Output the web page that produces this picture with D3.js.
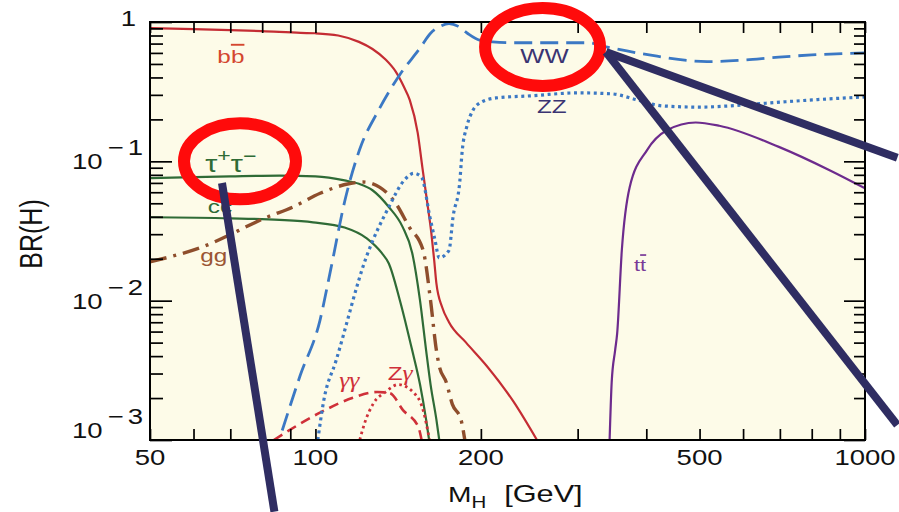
<!DOCTYPE html>
<html><head><meta charset="utf-8">
<script src="https://cdn.jsdelivr.net/npm/d3@7/dist/d3.min.js"></script>
<style>
html,body{margin:0;padding:0;background:#fff;}
svg{display:block;font-family:"Liberation Sans",Arial,Helvetica,sans-serif;}
</style></head>
<body>
<svg id="chart" width="899" height="512"></svg>
<script>
// ---------- data (Higgs mass in GeV, branching ratio) ----------
const bbM  = [50,60,70,80,94,100,110,120,127,134,140,145,148.5,153.5,156.5,159.5,162.5,164.5,166,170,175,188,205,229,253];
const bbBR = [0.905,0.89,0.875,0.86,0.835,0.83,0.8,0.72,0.64,0.54,0.44,0.34,0.275,0.16,0.091,0.053,0.0306,0.0194,0.0133,0.009,0.007,0.005,0.0034,0.0019,0.001];

const wwM  = [87,93.8,101.9,106.6,113.2,120.3,130.3,142.3,155,162,168.6,175,182,189,199,210,229,312,340,405,516,590,697,800,1000];
const wwBR = [0.00117,0.0029,0.0072,0.0167,0.0528,0.121,0.233,0.417,0.65,0.83,0.93,0.975,0.93,0.83,0.74,0.72,0.71,0.71,0.66,0.58,0.52,0.53,0.56,0.58,0.6];

const zzM  = [101,103.5,109,124,136,145,151,156,161.5,165,168,175,178,183,185,188.5,193.5,199,213,246,300,346,385,428,500,568,650,802,1000];
const zzBR = [0.001,0.0019,0.0037,0.021,0.047,0.073,0.082,0.077,0.04,0.0273,0.0203,0.023,0.04,0.07,0.12,0.177,0.233,0.262,0.285,0.295,0.31,0.305,0.276,0.25,0.245,0.25,0.26,0.276,0.29];

const ttM  = [343,346,351,354,361,373,401,436,492,543,697,864,1000];
const ttBR = [0.001,0.0026,0.0044,0.0058,0.023,0.065,0.12,0.167,0.19,0.18,0.127,0.086,0.064];

const tauM  = [50,60,70,86,100,113,120,127,136,144,150,155,159,162,166,168];
const tauBR = [0.0757,0.077,0.078,0.079,0.078,0.073,0.069,0.062,0.047,0.034,0.022,0.01,0.0044,0.0025,0.0014,0.001];

const ccM  = [50,70,86,99,113,124,132,136,142.5,150,155,159,161];
const ccBR = [0.0397,0.039,0.038,0.0365,0.0335,0.028,0.022,0.0185,0.01,0.0044,0.0025,0.0014,0.001];

const ggM  = [50,61.7,82,91,102,115,122,131,140,148,157,162,166,168,173,177.5,184,187];
const ggBR = [0.019,0.024,0.04,0.047,0.059,0.069,0.071,0.065,0.05,0.034,0.023,0.01,0.0044,0.0034,0.0026,0.0018,0.0014,0.001];

const aaM  = [84,101.9,117,129.6,136.6,144.3,153.9,156];
const aaBR = [0.001,0.00157,0.00201,0.00221,0.00217,0.00164,0.00124,0.001];

const zaM  = [120.4,122.8,127.6,134.1,141.5,150.5,157,161.3];
const zaBR = [0.001,0.00131,0.00184,0.00221,0.0025,0.00221,0.00164,0.001];

// ticks
const xTickLabelValues = [50,100,200,500,1000];
const xTickLabels = ["50","100","200","500","1000"];
const xMinorTicks = [60,70,80,90,300,400,600,700,800,900];
const yMajorTicks = [0.001,0.01,0.1,1];
const yTickExponents = ["3","2","1",""];
const yMinorTicks = [0.002,0.003,0.004,0.005,0.006,0.007,0.008,0.009,
                     0.02,0.03,0.04,0.05,0.06,0.07,0.08,0.09,
                     0.2,0.3,0.4,0.5,0.6,0.7,0.8,0.9];

// curve labels (position in data coords)
const labelNames = ["bb","tautau","cc","gg","WW","ZZ","tt","aa","Za"];
const labelM  = [66.3,63.0,63.7,61.7,236,253,380,110.5,135.4];
const labelBR = [0.508,0.0838,0.0425,0.019,0.508,0.222,0.0164,0.0024,0.0027];

// annotation marks (data coords)
const ellipseM  = [72.9,259];
const ellipseBR = [0.1,0.662];
const arrowFromM  = [67.6,337.8,337.8];
const arrowFromBR = [0.0699,0.609,0.609];
const arrowToM    = [84.2,1145,1145];
const arrowToBR   = [0.000306,0.106,0.00128];

// ---------- layout ----------
const SX = 1.28;   // horizontal stretch of the original typography
const svg = d3.select("#chart");
const x = d3.scaleLog().domain([50,1000]).range([150,865]);
const y = d3.scaleLog().domain([0.001,1]).range([440,22]);
const X0 = x(50), X1 = x(1000), Y0 = y(1), Y1 = y(0.001);

svg.append("rect").attr("x",X0).attr("y",Y0).attr("width",X1-X0).attr("height",Y1-Y0)
  .attr("fill","#fdfbe8");

svg.append("defs").append("clipPath").attr("id","plotclip")
  .append("rect").attr("x",X0).attr("y",Y0).attr("width",X1-X0).attr("height",Y1-Y0);

const gCurves = svg.append("g").attr("clip-path","url(#plotclip)");
const line = d3.line().x(d=>x(d[0])).y(d=>y(d[1])).curve(d3.curveMonotoneX);
function zip(a,b){return a.map((v,i)=>[v,b[i]]);}

const series = [
  {m:tauM, b:tauBR, c:"#2f6b36", w:2.2, dash:null},
  {m:ccM,  b:ccBR,  c:"#2f6b36", w:2.2, dash:null},
  {m:ggM,  b:ggBR,  c:"#8e4e2c", w:3.4, dash:"17,7,3,7"},
  {m:aaM,  b:aaBR,  c:"#cf3039", w:2.6, dash:"10,6"},
  {m:zaM,  b:zaBR,  c:"#cf3039", w:2.8, dash:"2.6,3.4"},
  {m:bbM,  b:bbBR,  c:"#c42c33", w:2.2, dash:null},
  {m:zzM,  b:zzBR,  c:"#3b78c4", w:3.2, dash:"3,3.6"},
  {m:wwM,  b:wwBR,  c:"#3b78c4", w:2.8, dash:"18,8"},
  {m:ttM,  b:ttBR,  c:"#6d2b8d", w:2.2, dash:null}
];
series.forEach(s=>{
  gCurves.append("path").datum(zip(s.m,s.b)).attr("d",line)
    .attr("fill","none").attr("stroke",s.c).attr("stroke-width",s.w)
    .attr("stroke-dasharray",s.dash);
});

// ---------- axes ----------
function styleAxis(g){ g.select(".domain").remove(); g.selectAll(".tick line").attr("stroke","#000").attr("stroke-width",1.7); g.selectAll(".tick text").remove(); }
const xAll = xTickLabelValues.concat(xMinorTicks);
svg.append("g").attr("transform",`translate(0,${Y1})`).call(d3.axisBottom(x).tickValues(xAll).tickSizeInner(-11).tickSizeOuter(0)).call(styleAxis);
svg.append("g").attr("transform",`translate(0,${Y0})`).call(d3.axisTop(x).tickValues(xAll).tickSizeInner(-11).tickSizeOuter(0)).call(styleAxis);
svg.append("g").attr("transform",`translate(${X0},0)`).call(d3.axisLeft(y).tickValues(yMajorTicks).tickSizeInner(-22).tickSizeOuter(0)).call(styleAxis);
svg.append("g").attr("transform",`translate(${X0},0)`).call(d3.axisLeft(y).tickValues(yMinorTicks).tickSizeInner(-13).tickSizeOuter(0)).call(styleAxis);
svg.append("g").attr("transform",`translate(${X1},0)`).call(d3.axisRight(y).tickValues(yMajorTicks).tickSizeInner(-21).tickSizeOuter(0)).call(styleAxis);
svg.append("g").attr("transform",`translate(${X1},0)`).call(d3.axisRight(y).tickValues(yMinorTicks).tickSizeInner(-11).tickSizeOuter(0)).call(styleAxis);

svg.append("rect").attr("x",X0).attr("y",Y0).attr("width",X1-X0).attr("height",Y1-Y0)
  .attr("fill","none").attr("stroke","#000").attr("stroke-width",2);

// ---------- text helpers ----------
function txt(px,py,size,color,anchor){
  return svg.append("text").attr("transform",`translate(${px},${py}) scale(${SX},1)`)
    .attr("font-size",size).attr("fill",color).attr("text-anchor",anchor||"start");
}

// x tick labels
xTickLabelValues.forEach((v,i)=>{
  txt(x(v),465,21.5,"#111","middle").text(xTickLabels[i]);
});
// y tick labels
yMajorTicks.forEach((v,i)=>{
  if(yTickExponents[i]===""){
    txt(136,y(v)+4,21.5,"#111","end").text("1");
  } else {
    const base = (i===0) ? y(v)-2 : y(v)+8;
    const t = txt(143,base,21.5,"#111","end");
    t.append("tspan").text("10");
    t.append("tspan").attr("dx",4).attr("dy",-14).text("\u2212");
    t.append("tspan").attr("dx",3).text(yTickExponents[i]);
  }
});

// axis titles
const xt = txt(448,502,22,"#111","start");
xt.append("tspan").text("M");
xt.append("tspan").attr("font-size",16).attr("dy",6).text("H");
xt.append("tspan").attr("dx",14).attr("dy",-6).attr("font-size",24).text("[GeV]");

svg.append("text").attr("transform",`translate(42,234) rotate(-90) scale(1,${SX})`)
  .attr("font-size",25).attr("fill","#111").attr("text-anchor","middle").text("BR(H)");

// ---------- curve labels ----------
function over(t){ t.style("text-decoration","overline"); return t; }
function gam(t){ return t.attr("font-family","'Liberation Serif','DejaVu Serif',serif").attr("font-style","italic"); }
function L(i,size,color){ return txt(x(labelM[i]),y(labelBR[i]),size,color,"start"); }
let t;
t = L(0,19,"#d4472f"); t.append("tspan").text("b"); over(t.append("tspan").text("b"));
t = L(1,24,"#2f6b36"); t.append("tspan").text("\u03c4"); t.append("tspan").attr("dy",-10).attr("font-size",18).text("+");
  t.append("tspan").attr("dy",10).text("\u03c4"); t.append("tspan").attr("dy",-10).attr("font-size",18).text("\u2212");
t = L(2,19,"#2f6b36"); t.append("tspan").text("c"); over(t.append("tspan").text("c"));
t = L(3,19,"#9a5533"); t.text("gg");
t = L(4,20,"#3a3472"); t.text("WW");
t = L(5,19,"#3a3472"); t.text("ZZ");
t = L(6,17,"#7a3a98"); t.append("tspan").text("t"); over(t.append("tspan").text("t"));
t = L(7,20,"#cf3039"); gam(t.append("tspan").text("\u03b3\u03b3"));
t = L(8,19,"#cf3039"); t.append("tspan").text("Z"); gam(t.append("tspan").attr("font-size",20).text("\u03b3"));

// ---------- slide annotations ----------
const eRx=[56,57.5], eRy=[38,39];
ellipseM.forEach((m,i)=>{
  svg.append("ellipse").attr("cx",x(m)).attr("cy",y(ellipseBR[i]))
    .attr("rx",eRx[i]).attr("ry",eRy[i]).attr("fill","none")
    .attr("stroke","#ff0b0b").attr("stroke-width",12);
});
arrowFromM.forEach((m,i)=>{
  svg.append("line").attr("x1",x(m)).attr("y1",y(arrowFromBR[i]))
    .attr("x2",x(arrowToM[i])).attr("y2",y(arrowToBR[i]))
    .attr("stroke","#2f2d62").attr("stroke-width",8);
});
</script>
</body></html>
